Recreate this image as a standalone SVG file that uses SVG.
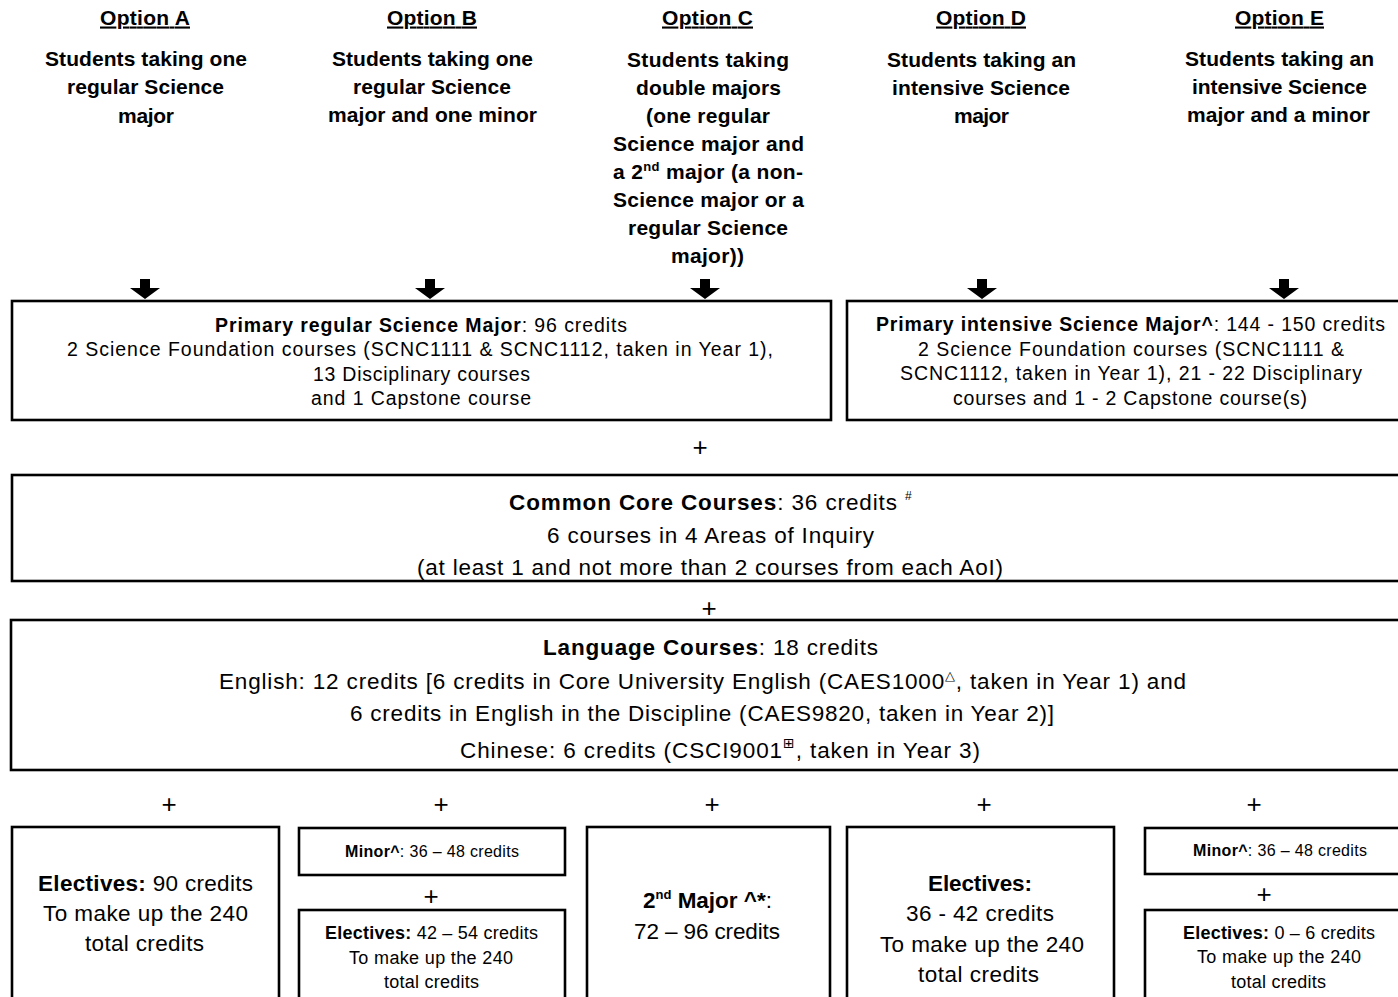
<svg xmlns="http://www.w3.org/2000/svg" width="1398" height="997" viewBox="0 0 1398 997">
<style>
text{font-family:"Liberation Sans",Arial,sans-serif;fill:#000}
.h{font-size:21px;font-weight:bold;text-decoration:underline}
.d{font-size:21px;font-weight:bold}
.s{font-size:19.5px}
.m{font-size:22.5px}
.p{font-size:26px}
.sm{font-size:16px}
.e{font-size:18px}
.b{font-weight:bold}
.box{fill:#fff;stroke:#000;stroke-width:2.6}
.arr{fill:#000}
</style>
<rect width="1398" height="997" fill="#fff"/>

<g id="optA">
<text class="h" x="100" y="24.5" textLength="90" lengthAdjust="spacing">Option A</text>
<text class="d" x="45" y="66" textLength="202" lengthAdjust="spacing">Students taking one</text>
<text class="d" x="67" y="94" textLength="157" lengthAdjust="spacing">regular Science</text>
<text class="d" x="118" y="123" textLength="56" lengthAdjust="spacing">major</text>
</g>
<g id="optB">
<text class="h" x="387" y="24.5" textLength="90" lengthAdjust="spacing">Option B</text>
<text class="d" x="332" y="66" textLength="201" lengthAdjust="spacing">Students taking one</text>
<text class="d" x="353" y="94" textLength="158" lengthAdjust="spacing">regular Science</text>
<text class="d" x="328" y="122" textLength="209" lengthAdjust="spacing">major and one minor</text>
</g>
<g id="optC">
<text class="h" x="662" y="24.5" textLength="91" lengthAdjust="spacing">Option C</text>
<text class="d" x="627" y="67" textLength="162" lengthAdjust="spacing">Students taking</text>
<text class="d" x="636" y="95" textLength="145" lengthAdjust="spacing">double majors</text>
<text class="d" x="646" y="123" textLength="124" lengthAdjust="spacing">(one regular</text>
<text class="d" x="613" y="151" textLength="191" lengthAdjust="spacing">Science major and</text>
<text class="d" x="613" y="179" textLength="190" lengthAdjust="spacing">a 2<tspan font-size="13" dy="-8">nd</tspan><tspan dy="8"> major (a non-</tspan></text>
<text class="d" x="613" y="207" textLength="191" lengthAdjust="spacing">Science major or a</text>
<text class="d" x="628" y="235" textLength="160" lengthAdjust="spacing">regular Science</text>
<text class="d" x="671" y="263" textLength="73" lengthAdjust="spacing">major))</text>
</g>
<g id="optD">
<text class="h" x="936" y="24.5" textLength="90" lengthAdjust="spacing">Option D</text>
<text class="d" x="887" y="67" textLength="189" lengthAdjust="spacing">Students taking an</text>
<text class="d" x="892" y="95" textLength="178" lengthAdjust="spacing">intensive Science</text>
<text class="d" x="954" y="123" textLength="55" lengthAdjust="spacing">major</text>
</g>
<g id="optE">
<text class="h" x="1235" y="24.5" textLength="89" lengthAdjust="spacing">Option E</text>
<text class="d" x="1185" y="66" textLength="189" lengthAdjust="spacing">Students taking an</text>
<text class="d" x="1192" y="94" textLength="175" lengthAdjust="spacing">intensive Science</text>
<text class="d" x="1187" y="122" textLength="183" lengthAdjust="spacing">major and a minor</text>
</g>

<g id="connectors">
<defs>
<polygon id="ba" points="-5,279 5,279 5,288 15,288 0,299 -15,288 -5,288"/>
</defs>
<use href="#ba" class="arr" x="145"/>
<use href="#ba" class="arr" x="430"/>
<use href="#ba" class="arr" x="705"/>
<use href="#ba" class="arr" x="982"/>
<use href="#ba" class="arr" x="1284"/>
</g>

<g id="primaryRegular">
<rect class="box" x="12" y="301" width="819" height="119"/>
<text class="s" x="215" y="332" textLength="412" lengthAdjust="spacing"><tspan class="b">Primary regular Science Major</tspan>: 96 credits</text>
<text class="s" x="67" y="356" textLength="706" lengthAdjust="spacing">2 Science Foundation courses (SCNC1111 &amp; SCNC1112, taken in Year 1),</text>
<text class="s" x="313" y="381" textLength="217" lengthAdjust="spacing">13 Disciplinary courses</text>
<text class="s" x="311" y="405" textLength="220" lengthAdjust="spacing">and 1 Capstone course</text>
</g>

<g id="primaryIntensive">
<rect class="box" x="847" y="301" width="570" height="119"/>
<text class="s" x="876" y="331" textLength="509" lengthAdjust="spacing"><tspan class="b">Primary intensive Science Major^</tspan>: 144 - 150 credits</text>
<text class="s" x="918" y="356" textLength="426" lengthAdjust="spacing">2 Science Foundation courses (SCNC1111 &amp;</text>
<text class="s" x="900" y="380" textLength="462" lengthAdjust="spacing">SCNC1112, taken in Year 1), 21 - 22 Disciplinary</text>
<text class="s" x="953" y="405" textLength="354" lengthAdjust="spacing">courses and 1 - 2 Capstone course(s)</text>
</g>

<g id="plus1"><text class="p" x="700" y="456" text-anchor="middle">+</text></g>

<g id="commonCore">
<rect class="box" x="12" y="475" width="1405" height="106"/>
<text class="m" x="509" y="510" textLength="388" lengthAdjust="spacing"><tspan class="b">Common Core Courses</tspan>: 36 credits</text>
<text x="905" y="500" font-size="12">#</text>
<text class="m" x="547" y="543" textLength="327" lengthAdjust="spacing">6 courses in 4 Areas of Inquiry</text>
<text class="m" x="417" y="575" textLength="586" lengthAdjust="spacing">(at least 1 and not more than 2 courses from each AoI)</text>
</g>

<g id="plus2"><text class="p" x="709" y="617" text-anchor="middle">+</text></g>

<g id="language">
<rect class="box" x="11" y="620" width="1406" height="150"/>
<text class="m" x="543" y="655" textLength="335" lengthAdjust="spacing"><tspan class="b">Language Courses</tspan>: 18 credits</text>
<text class="m" x="219" y="689" textLength="967" lengthAdjust="spacing">English: 12 credits [6 credits in Core University English (CAES1000<tspan font-size="13" dy="-9">△</tspan><tspan dy="9">, taken in Year 1) and</tspan></text>
<text class="m" x="350" y="721" textLength="704" lengthAdjust="spacing">6 credits in English in the Discipline (CAES9820, taken in Year 2)]</text>
<text class="m" x="460" y="758" textLength="520" lengthAdjust="spacing">Chinese: 6 credits (CSCI9001<tspan font-size="14" dy="-10" font-family="DejaVu Sans">⊞</tspan><tspan dy="10">, taken in Year 3)</tspan></text>
</g>

<g id="plusRow">
<text class="p" x="169" y="813" text-anchor="middle">+</text>
<text class="p" x="441" y="813" text-anchor="middle">+</text>
<text class="p" x="712" y="813" text-anchor="middle">+</text>
<text class="p" x="984" y="813" text-anchor="middle">+</text>
<text class="p" x="1254" y="813" text-anchor="middle">+</text>
</g>

<g id="electivesA">
<rect class="box" x="12" y="827" width="267" height="185"/>
<text class="m" x="38" y="891" textLength="215" lengthAdjust="spacing"><tspan class="b">Electives:</tspan> 90 credits</text>
<text class="m" x="43" y="921" textLength="205" lengthAdjust="spacing">To make up the 240</text>
<text class="m" x="85" y="951" textLength="119" lengthAdjust="spacing">total credits</text>
</g>

<g id="minorB">
<rect class="box" x="299" y="828" width="266" height="47"/>
<text class="sm" x="345" y="857" textLength="174" lengthAdjust="spacing"><tspan class="b">Minor^</tspan>: 36 – 48 credits</text>
</g>
<g id="plusB"><text class="p" x="431" y="905" text-anchor="middle">+</text></g>
<g id="electivesB">
<rect class="box" x="299" y="910" width="266" height="100"/>
<text class="e" x="325" y="938.5" textLength="213" lengthAdjust="spacing"><tspan class="b">Electives:</tspan> 42 – 54 credits</text>
<text class="e" x="349" y="963.5" textLength="164" lengthAdjust="spacing">To make up the 240</text>
<text class="e" x="384" y="987.5" textLength="95" lengthAdjust="spacing">total credits</text>
</g>

<g id="secondMajorC">
<rect class="box" x="587" y="827" width="243" height="185"/>
<text class="m" x="643" y="908" textLength="129" lengthAdjust="spacing"><tspan class="b">2</tspan><tspan class="b" font-size="13" dy="-9">nd</tspan><tspan class="b" dy="9"> Major ^*</tspan>:</text>
<text class="m" x="634" y="939" textLength="146" lengthAdjust="spacing">72 – 96 credits</text>
</g>

<g id="electivesD">
<rect class="box" x="847" y="827" width="267" height="185"/>
<text class="m b" x="928" y="891" textLength="104" lengthAdjust="spacing">Electives:</text>
<text class="m" x="906" y="921" textLength="148" lengthAdjust="spacing">36 - 42 credits</text>
<text class="m" x="880" y="952" textLength="204" lengthAdjust="spacing">To make up the 240</text>
<text class="m" x="918" y="982" textLength="121" lengthAdjust="spacing">total credits</text>
</g>

<g id="minorE">
<rect class="box" x="1145" y="828" width="272" height="46"/>
<text class="sm" x="1193" y="856" textLength="174" lengthAdjust="spacing"><tspan class="b">Minor^</tspan>: 36 – 48 credits</text>
</g>
<g id="plusE"><text class="p" x="1264" y="903" text-anchor="middle">+</text></g>
<g id="electivesE">
<rect class="box" x="1145" y="910" width="272" height="100"/>
<text class="e" x="1183" y="938.5" textLength="192" lengthAdjust="spacing"><tspan class="b">Electives:</tspan> 0 – 6 credits</text>
<text class="e" x="1197" y="962.5" textLength="164" lengthAdjust="spacing">To make up the 240</text>
<text class="e" x="1231" y="987.5" textLength="95" lengthAdjust="spacing">total credits</text>
</g>
</svg>
